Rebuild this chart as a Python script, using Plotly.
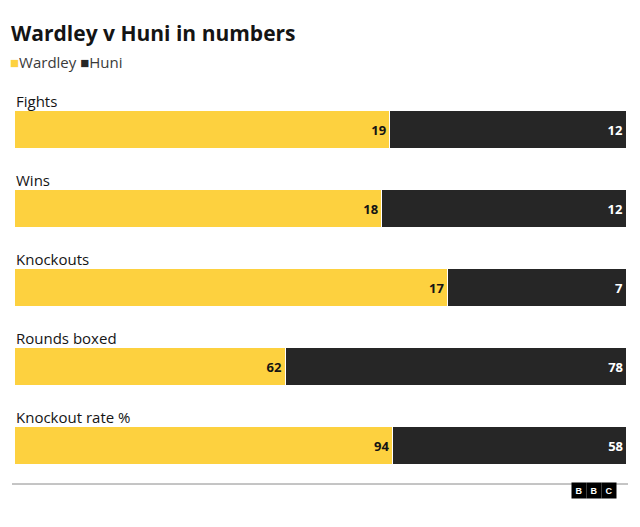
import plotly.graph_objects as go

categories = ["Fights", "Wins", "Knockouts", "Rounds boxed", "Knockout rate %"]
wardley = [19, 18, 17, 62, 94]
huni = [12, 12, 7, 78, 58]

W, H = 640, 527
OFF = 8  # page body margin
ml, mr, mt, mb = 14 - OFF, 14 + OFF, 100 - OFF, 60 + OFF
pos = list(range(len(categories)))
YEL, DARK = "#FDD13F", "#262626"
FONT = "Open Sans"

fig = go.Figure()
fig.add_bar(y=pos, x=wardley, orientation="h", marker=dict(color=YEL, line=dict(color="white", width=1)),
            text=wardley, textposition="inside", insidetextanchor="end",
            textfont=dict(color="#141414", size=13, family=FONT, weight="bold"), width=0.47, name="Wardley")
fig.add_bar(y=pos, x=huni, orientation="h", marker=dict(color=DARK, line=dict(color="white", width=1)),
            text=huni, textposition="inside", insidetextanchor="end",
            textfont=dict(color="white", size=13, family=FONT, weight="bold"), width=0.47, name="Huni")

fig.update_layout(
    width=W, height=H, barmode="stack", barnorm="percent", showlegend=False,
    plot_bgcolor="white", paper_bgcolor="white",
    margin=dict(l=ml, r=mr, t=mt, b=mb),
    font=dict(family=FONT, color="#141414"),
    xaxis=dict(visible=False, range=[0, 100]),
    yaxis=dict(visible=False, range=[4 + 21.5 / 79, -29.5 / 79]),
    uniformtext=dict(minsize=8, mode="show"),
)
for i, c in enumerate(categories):
    fig.add_annotation(x=0, y=i - 0.36, xref="x", yref="y", text=c, showarrow=False,
                       xanchor="left", yanchor="middle", font=dict(size=15, color="#141414"))

pw, ph = W - ml - mr, H - mt - mb
def px(x): return (x - OFF - ml) / pw
def py(y): return (H - (y - OFF) - mb) / ph

fig.add_annotation(x=px(9), y=py(33), xref="paper", yref="paper", text="<b>Wardley v Huni in numbers</b>",
                   showarrow=False, xanchor="left", yanchor="middle", font=dict(size=21, color="#141414"))
fig.add_annotation(x=px(8), y=py(62), xref="paper", yref="paper",
                   text=f"<span style='color:{YEL}'>■</span>Wardley <span style='color:{DARK}'>■</span>Huni",
                   showarrow=False, xanchor="left", yanchor="middle", font=dict(size=15, color="#3a3a3a"))
fig.add_shape(type="line", xref="paper", yref="paper", x0=px(12), x1=px(628),
              y0=py(484), y1=py(484), line=dict(color="#8a8a8a", width=1))
for k, letter in enumerate("BBC"):
    fig.add_annotation(x=px(587 + k * 15), y=py(499), xref="paper", yref="paper",
                       text=f"<b>{letter}</b>", showarrow=False, bgcolor="black", width=12, height=13,
                       font=dict(size=9, color="white", family="Liberation Sans"))

fig.write_html("out.html")
